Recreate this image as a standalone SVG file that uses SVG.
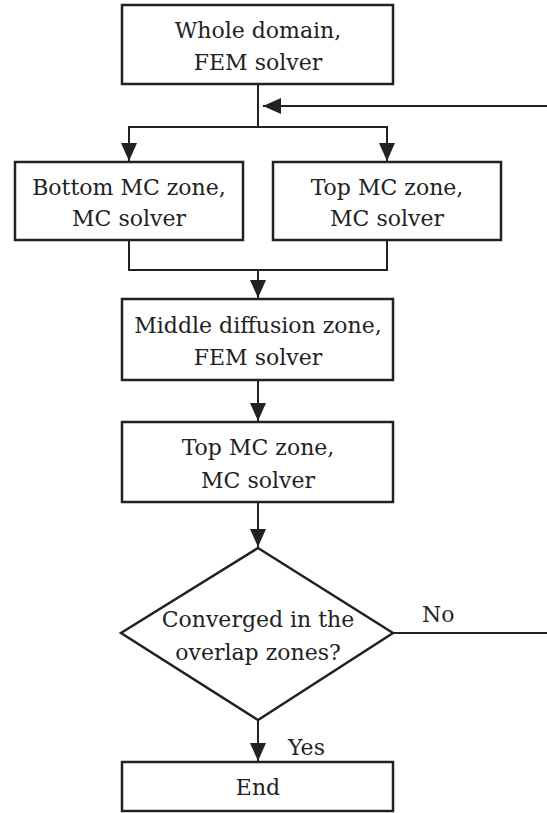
<svg xmlns="http://www.w3.org/2000/svg" width="547" height="813" viewBox="0 0 547 813">
  <style>
    .box { fill: #ffffff; stroke: #222222; stroke-width: 2.5; }
    .line { fill: none; stroke: #222222; stroke-width: 2; }
    text { font-family: 'DejaVu Serif', serif; font-size: 22px; letter-spacing: 0px; fill: #222222; }
    .t { text-anchor: middle; }
  </style>
  <defs>
    <marker id="arrow" viewBox="0 0 18 16" refX="18" refY="8" markerWidth="18" markerHeight="16" markerUnits="userSpaceOnUse" orient="auto">
      <path d="M0,0 L18,8 L0,16 Z" fill="#222222"/>
    </marker>
  </defs>
  <rect width="547" height="813" fill="#ffffff"/>

  <g id="connectors">
    <path class="line" d="M258,84 V127"/>
    <path class="line" d="M258,127 H129 V161" marker-end="url(#arrow)"/>
    <path class="line" d="M258,127 H387 V161" marker-end="url(#arrow)"/>
    <path class="line" d="M129,240 V270 H387 V240"/>
    <path class="line" d="M258,270 V298" marker-end="url(#arrow)"/>
    <path class="line" d="M258,380 V421" marker-end="url(#arrow)"/>
    <path class="line" d="M258,502 V547" marker-end="url(#arrow)"/>
    <path class="line" d="M258,720 V761" marker-end="url(#arrow)"/>
    <path class="line" d="M393,633 H549 V106 H263" marker-end="url(#arrow)"/>
    <text x="422" y="622">No</text>
    <text x="288" y="755">Yes</text>
  </g>

  <g id="node-whole">
    <rect class="box" x="122" y="5" width="271" height="79"/>
    <text class="t" x="258" y="38">Whole domain,</text>
    <text class="t" x="258" y="70">FEM solver</text>
  </g>

  <g id="node-bottom-mc">
    <rect class="box" x="15" y="162" width="228" height="78"/>
    <text class="t" x="129" y="195">Bottom MC zone,</text>
    <text class="t" x="129" y="226">MC solver</text>
  </g>

  <g id="node-top-mc-1">
    <rect class="box" x="273" y="162" width="228" height="78"/>
    <text class="t" x="387" y="195">Top MC zone,</text>
    <text class="t" x="387" y="226">MC solver</text>
  </g>

  <g id="node-middle">
    <rect class="box" x="122" y="299" width="271" height="81"/>
    <text class="t" x="258" y="333">Middle diffusion zone,</text>
    <text class="t" x="258" y="365">FEM solver</text>
  </g>

  <g id="node-top-mc-2">
    <rect class="box" x="122" y="422" width="271" height="80"/>
    <text class="t" x="258" y="455">Top MC zone,</text>
    <text class="t" x="258" y="488">MC solver</text>
  </g>

  <g id="node-decision">
    <polygon class="box" points="258,548 393,633 258,720 121,633"/>
    <text class="t" x="258" y="627">Converged in the</text>
    <text class="t" x="258" y="660">overlap zones?</text>
  </g>

  <g id="node-end">
    <rect class="box" x="122" y="762" width="271" height="49"/>
    <text class="t" x="258" y="795">End</text>
  </g>
</svg>
